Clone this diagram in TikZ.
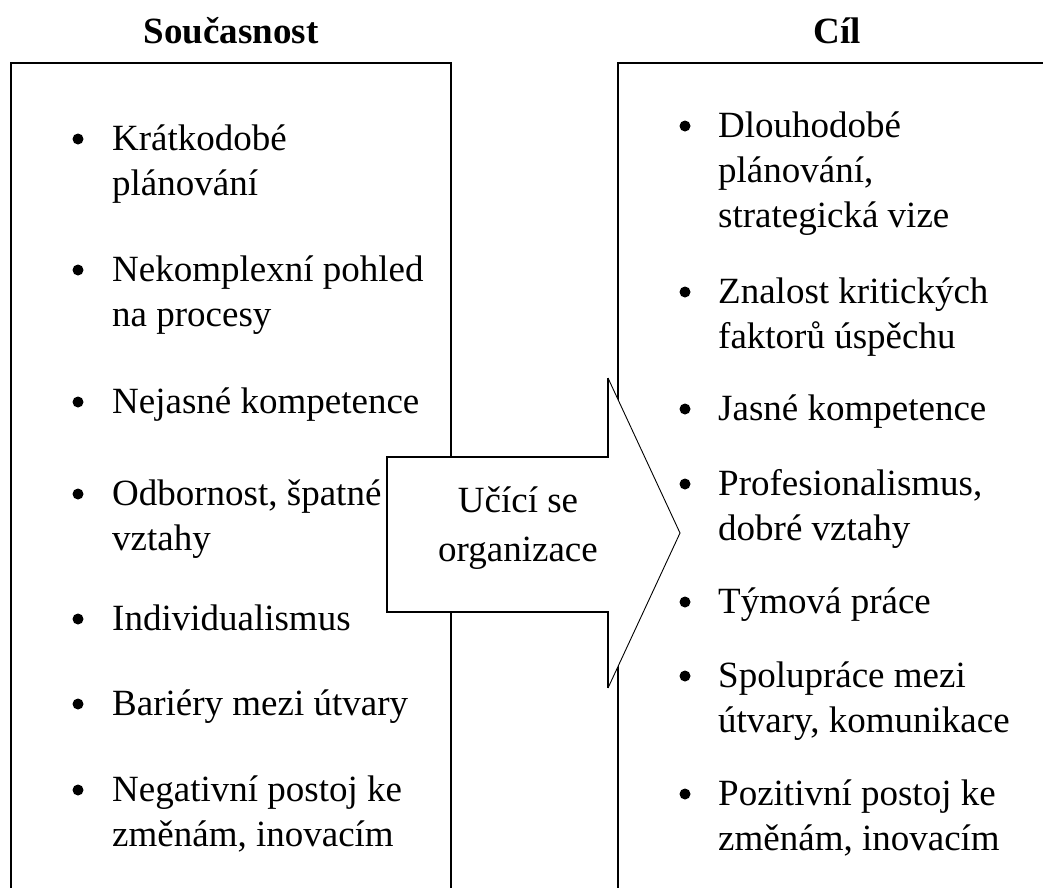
\documentclass[tikz,border=0pt]{standalone}
\usepackage{fontspec}
\setmainfont{Liberation Serif}
\usetikzlibrary{positioning}

\begin{document}
\begin{tikzpicture}[
    x=1pt, y=-1pt,
    frame/.style={line width=1.6pt, draw=black},
    thinframe/.style={line width=0.9pt, draw=black},
    heading/.style={
        font=\fontsize{37}{44}\selectfont\bfseries,
        anchor=base, inner sep=0pt
    },
    % base anchor of a multi-line node sits on its last line
    entry/.style={
        font=\fontsize{37}{45}\selectfont,
        anchor=base west, align=left, inner sep=0pt
    },
    dot/.style={circle, fill=black, minimum size=11pt, inner sep=0pt},
    shifttext/.style={
        font=\fontsize{37}{49}\selectfont,
        align=center, inner sep=0pt
    },
]

\useasboundingbox (0,0) rectangle (1043,887);
\clip (0,0) rectangle (1043,887);

% COLUMN HEADINGS
\node[heading] (now) at (231,43) {Současnost};
\node[heading] (goal) at (837,43) {Cíl};

% OPEN FRAMES
\draw[frame] (11,900) |- (451,63) -- (451,900);
\draw[frame] (618,900) |- (1070,63);

% LEFT COLUMN
\node[entry] (now1) at (112,195) {Krátkodobé\\plánování};
\node[entry] (now2) at (112,326) {Nekomplexní pohled\\na procesy};
\node[entry] (now3) at (112,413) {Nejasné kompetence};
\node[entry] (now4) at (112,550) {Odbornost, špatné\\vztahy};
\node[entry] (now5) at (112,630) {Individualismus};
\node[entry] (now6) at (112,715) {Bariéry mezi útvary};
\node[entry] (now7) at (112,846) {Negativní postoj ke\\změnám, inovacím};

\node[dot] (nowdot1) at (78,139) {};
\node[dot] (nowdot2) at (78,270) {};
\node[dot] (nowdot3) at (78,402) {};
\node[dot] (nowdot4) at (78,494) {};
\node[dot] (nowdot5) at (78,619) {};
\node[dot] (nowdot6) at (78,704) {};
\node[dot] (nowdot7) at (78,790) {};

% RIGHT COLUMN
\node[entry] (goal1) at (718,227) {Dlouhodobé\\plánování,\\strategická vize};
\node[entry] (goal2) at (718,348) {Znalost kritických\\faktorů úspěchu};
\node[entry] (goal3) at (718,420) {Jasné kompetence};
\node[entry] (goal4) at (718,540) {Profesionalismus,\\dobré vztahy};
\node[entry] (goal5) at (718,613) {Týmová práce};
\node[entry] (goal6) at (718,732) {Spolupráce mezi\\útvary, komunikace};
\node[entry] (goal7) at (718,850) {Pozitivní postoj ke\\změnám, inovacím};

\node[dot] (goaldot1) at (685,126) {};
\node[dot] (goaldot2) at (685,292) {};
\node[dot] (goaldot3) at (685,409) {};
\node[dot] (goaldot4) at (685,484) {};
\node[dot] (goaldot5) at (685,602) {};
\node[dot] (goaldot6) at (685,676) {};
\node[dot] (goaldot7) at (685,794) {};

% BIG ARROW between the frames (thick body, thin head)
\fill[white]
    (387,457) -- (608,457) -- (608,378) -- (680,533)
    -- (608,688) -- (608,612) -- (387,612) -- cycle;
\draw[frame] (608,378) |- (387,457) |- (608,612) -- (608,688);
\draw[thinframe] (608,378) -- (680,533) -- (608,688);
\node[shifttext] (learn) at (518,528) {Učící se\\organizace};

\end{tikzpicture}
\end{document}
